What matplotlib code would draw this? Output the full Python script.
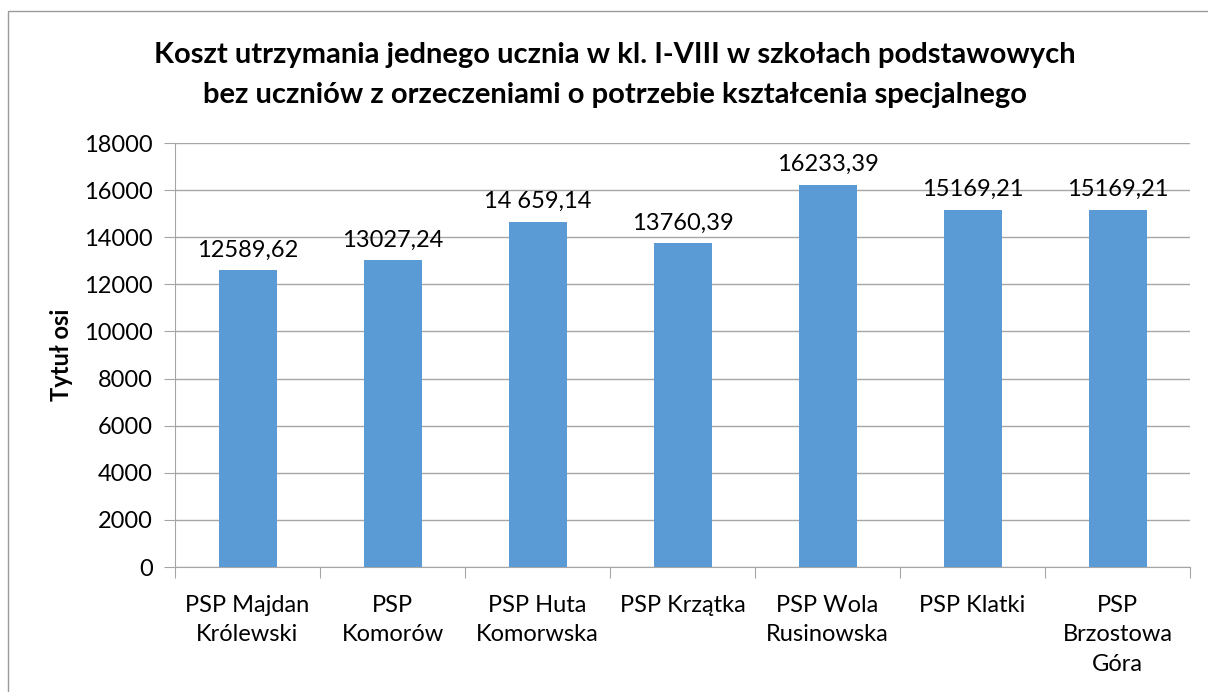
import matplotlib
matplotlib.use("Agg")
import matplotlib.pyplot as plt
from matplotlib.patches import Rectangle

categories = ["PSP Majdan\nKrólewski", "PSP\nKomorów", "PSP Huta\nKomorwska", "PSP Krzątka",
              "PSP Wola\nRusinowska", "PSP Klatki", "PSP\nBrzostowa\nGóra"]
values = [12589.62, 13027.24, 14659.14, 13760.39, 16233.39, 15169.21, 15169.21]
labels = ["12589,62", "13027,24", "14 659,14", "13760,39", "16233,39", "15169,21", "15169,21"]
yticks = [0, 2000, 4000, 6000, 8000, 10000, 12000, 14000, 16000, 18000]

plt.rcParams['font.family'] = ['Lato', 'DejaVu Sans']
W, H = 1208, 692
fig = plt.figure(figsize=(W/100, H/100), dpi=100)
ax = fig.add_axes([175/W, 1-567/H, (1190-175)/W, (567-143)/H])

x = list(range(len(categories)))
ax.bar(x, values, width=0.40, color="#5B9BD5", zorder=3)
for xi, v, l in zip(x, values, labels):
    ax.text(xi, v + 400, l, ha="center", va="bottom", fontsize=17, color="black", zorder=4)

ax.set_xlim(-0.5, len(categories) - 0.5)
ax.set_ylim(0, 18000)
ax.set_yticks(yticks)
ax.set_yticklabels([str(t) for t in yticks], fontsize=17)
ax.yaxis.grid(True, color="#A6A6A6", linewidth=1, zorder=0)
ax.set_xticks([i - 0.5 for i in range(len(categories) + 1)], minor=False)
ax.set_xticklabels([])
ax.set_xticks(x, minor=True)
ax.set_xticklabels(categories, minor=True, fontsize=17, linespacing=1.5)
ax.tick_params(axis="x", which="minor", length=0, pad=20)
ax.tick_params(axis="x", which="major", length=8, color="#A6A6A6")
ax.tick_params(axis="y", length=8, color="#A6A6A6", pad=8)
for s in ["top", "right"]:
    ax.spines[s].set_visible(False)
for s in ["left", "bottom"]:
    ax.spines[s].set_color("#A6A6A6")
ax.set_ylabel("Tytuł osi", fontsize=17, fontweight="bold", labelpad=8)

fig.text(615/W, 1-55/H, "Koszt utrzymania jednego ucznia w kl. I-VIII w szkołach podstawowych",
         ha="center", va="center", fontsize=21, fontweight="bold")
fig.text(615/W, 1-95/H, "bez uczniów z orzeczeniami o potrzebie kształcenia specjalnego",
         ha="center", va="center", fontsize=21, fontweight="bold")

fig.patches.append(Rectangle((8/W, -0.1), 1.2, 1 - 11/H + 0.1, transform=fig.transFigure,
                             fill=False, edgecolor="#9A9A9A", linewidth=1))
fig.savefig("out.png", dpi=100)
